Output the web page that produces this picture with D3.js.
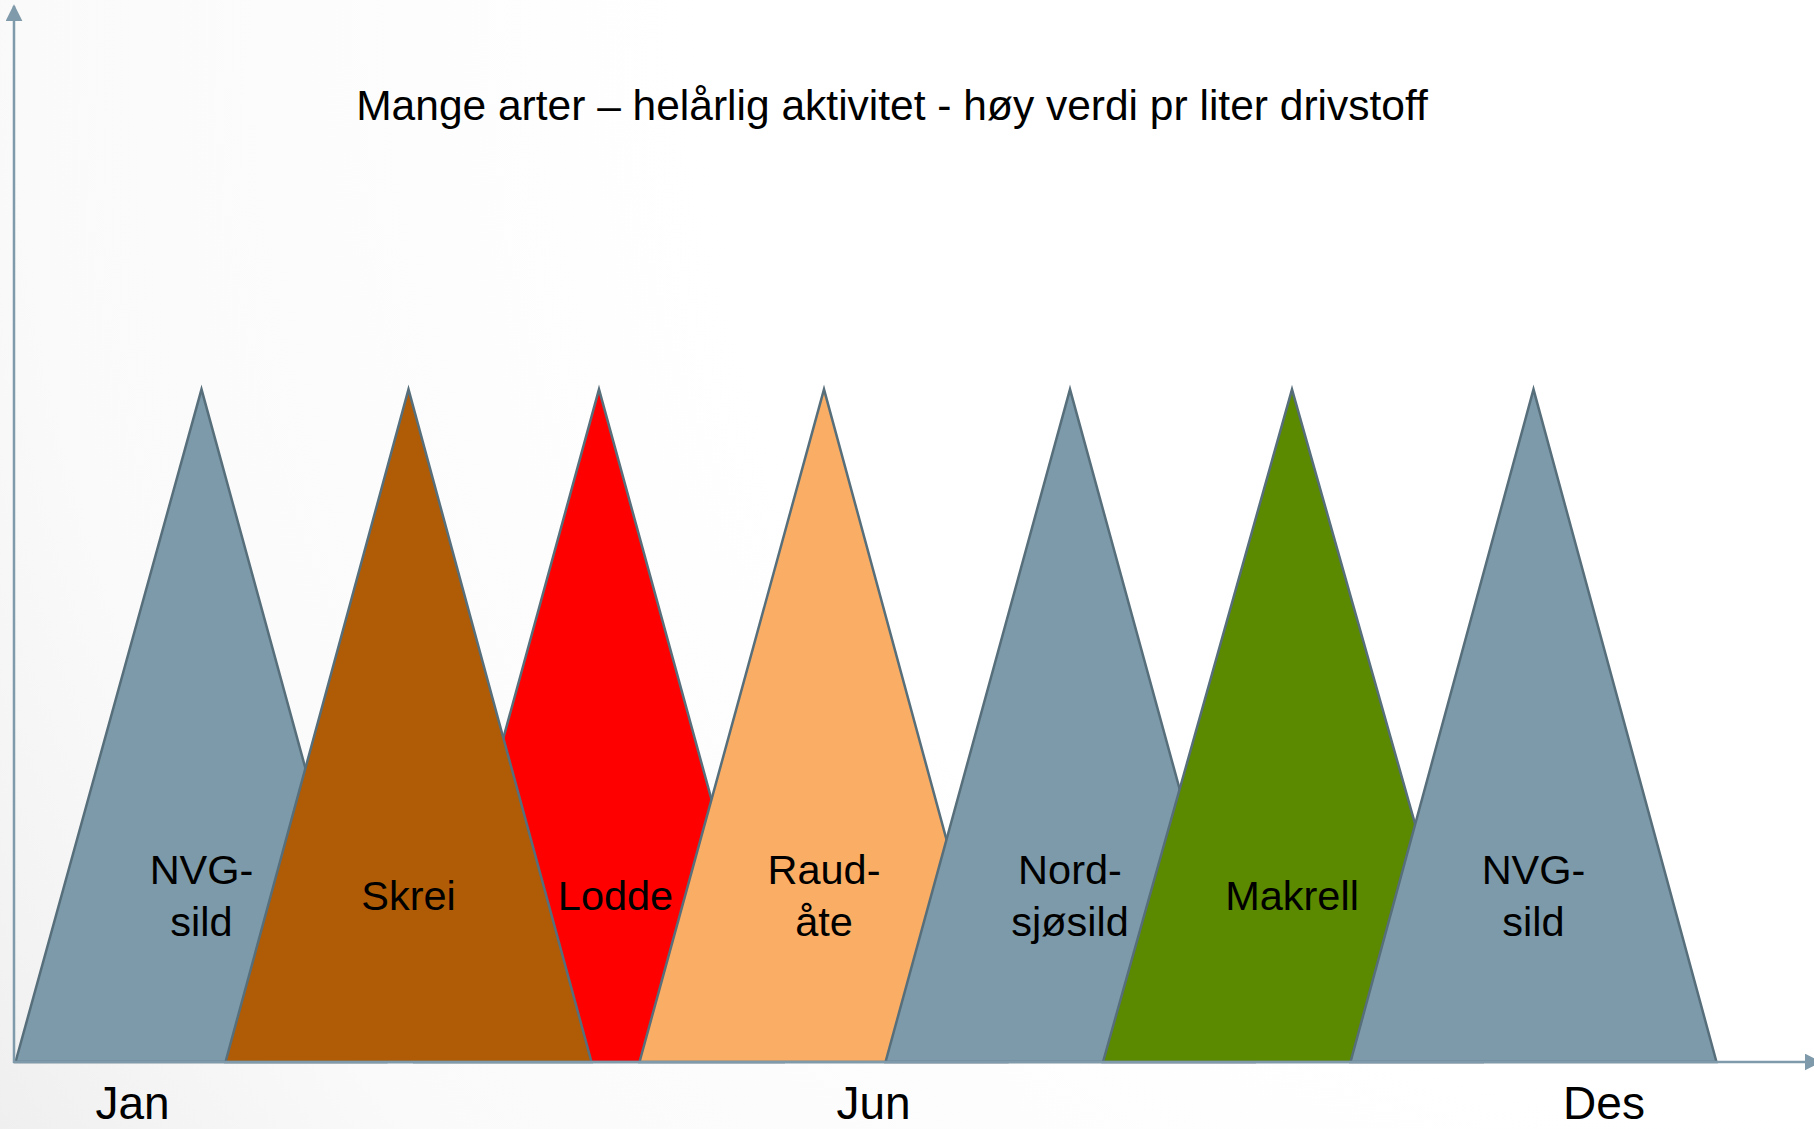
<!DOCTYPE html>
<html>
<head>
<meta charset="utf-8">
<script src="https://cdn.jsdelivr.net/npm/d3@7"></script>
<style>
  html, body { margin: 0; padding: 0; background: #ffffff; }
  svg { display: block; font-family: "Liberation Sans", Arial, sans-serif; }
</style>
</head>
<body>
<div id="chart"></div>
<script>
// DATA -------------------------------------------------------------
// season per species, x in months from the axis origin
let species = ["NVG-sild", "Skrei", "Lodde", "Raudåte", "Nordsjøsild", "Makrell", "NVG-sild"];
let label_lines = [["NVG-", "sild"], ["Skrei"], ["Lodde"], ["Raud-", "åte"], ["Nord-", "sjøsild"], ["Makrell"], ["NVG-", "sild"]];
let season_start = [0.01, 1.41, 2.67, 4.17, 5.81, 7.26, 8.91];
let season_peak = [1.25, 2.63, 3.9, 5.4, 7.04, 8.52, 10.13];
let season_end = [2.48, 3.85, 5.13, 6.62, 8.27, 9.79, 11.35];
let peak_level = [63.7, 63.7, 63.7, 63.7, 63.7, 63.7, 63.7];
let label_pos = [1.25, 2.63, 4.01, 5.4, 7.04, 8.52, 10.13];
let fill_colors = ["#7d9aaa", "#b05c07", "#ff0000", "#faae65", "#7d9aaa", "#5b8a00", "#7d9aaa"];
// which triangle lies on top of which (drawn in this order)
let draw_order = [0, 2, 1, 3, 4, 5, 6];

let month_labels = ["Jan", "Jun", "Des"];
let month_pos = [0.79, 5.73, 10.6];

let title = "Mange arter – helårlig aktivitet - høy verdi pr liter drivstoff";

// LAYOUT -----------------------------------------------------------
let width = 1814;
let height = 1129;
let origin = { x: 14, y: 1062 };

let x = d3.scaleLinear().domain([0, 12]).range([origin.x, width]);
let y = d3.scaleLinear().domain([0, 100]).range([origin.y, 6]);

let svg = d3
  .select("#chart")
  .append("svg")
  .attr("width", width)
  .attr("height", height);

// soft background, white at top right fading to grey at bottom left
let defs = svg.append("defs");
let bg = defs
  .append("radialGradient")
  .attr("id", "bg")
  .attr("gradientUnits", "userSpaceOnUse")
  .attr("cx", width)
  .attr("cy", 0)
  .attr("r", 2140);
bg.append("stop").attr("offset", "0").attr("stop-color", "#ffffff");
bg.append("stop").attr("offset", "0.52").attr("stop-color", "#ffffff");
bg.append("stop").attr("offset", "0.84").attr("stop-color", "#fafafa");
bg.append("stop").attr("offset", "1").attr("stop-color", "#efefef");

svg
  .append("rect")
  .attr("width", width)
  .attr("height", height)
  .attr("fill", "url(#bg)");

// arrow heads for the axes
defs
  .append("marker")
  .attr("id", "arrow")
  .attr("viewBox", "0 0 10 10")
  .attr("refX", 9)
  .attr("refY", 5)
  .attr("markerUnits", "userSpaceOnUse")
  .attr("markerWidth", 17)
  .attr("markerHeight", 17)
  .attr("orient", "auto")
  .append("path")
  .attr("d", "M0,0 L10,5 L0,10 z")
  .attr("fill", "#7f9aaa");

// TRIANGLES --------------------------------------------------------
let tri_data = draw_order.map((i) => ({
  name: species[i],
  pts: [
    [season_start[i], 0],
    [season_peak[i], peak_level[i]],
    [season_end[i], 0],
  ],
  color: fill_colors[i],
}));

let line = d3
  .line()
  .x((d) => x(d[0]))
  .y((d) => y(d[1]))
  .curve(d3.curveLinearClosed);

svg
  .selectAll("path.season")
  .data(tri_data)
  .enter()
  .append("path")
  .attr("class", "season")
  .attr("d", (d) => line(d.pts))
  .attr("fill", (d) => d.color)
  .attr("stroke", "#576e7b")
  .attr("stroke-width", 2.5)
  .attr("stroke-linejoin", "miter");

// AXES -------------------------------------------------------------
svg
  .append("line")
  .attr("x1", x(0))
  .attr("y1", y(0) + 1)
  .attr("x2", x(0))
  .attr("y2", y(100))
  .attr("stroke", "#7f9aaa")
  .attr("stroke-width", 2.5)
  .attr("marker-end", "url(#arrow)");

svg
  .append("line")
  .attr("x1", x(0) - 1)
  .attr("y1", y(0))
  .attr("x2", x(12) + 6)
  .attr("y2", y(0))
  .attr("stroke", "#7f9aaa")
  .attr("stroke-width", 2.5)
  .attr("marker-end", "url(#arrow)");

// month labels under the x axis
svg
  .selectAll("text.month")
  .data(month_labels)
  .enter()
  .append("text")
  .attr("class", "month")
  .attr("x", (d, i) => x(month_pos[i]))
  .attr("y", 1119)
  .attr("text-anchor", "middle")
  .attr("font-size", 46)
  .attr("fill", "#000")
  .text((d) => d);

// LABELS -----------------------------------------------------------
let labels = svg
  .selectAll("text.species")
  .data(label_lines)
  .enter()
  .append("text")
  .attr("class", "species")
  .attr("x", (d, i) => x(label_pos[i]))
  .attr("y", (d) => 910 - ((d.length - 1) * 52) / 2)
  .attr("text-anchor", "middle")
  .attr("font-size", 41.5)
  .attr("fill", "#000");

labels
  .selectAll("tspan")
  .data((d, i) => d.map((t) => ({ t: t, x: x(label_pos[i]) })))
  .enter()
  .append("tspan")
  .attr("x", (d) => d.x)
  .attr("dy", (d, j) => (j == 0 ? 0 : 52))
  .text((d) => d.t);

// title
svg
  .append("text")
  .attr("x", 892)
  .attr("y", 120)
  .attr("text-anchor", "middle")
  .attr("font-size", 42.5)
  .attr("fill", "#000")
  .text(title);
</script>
</body>
</html>
